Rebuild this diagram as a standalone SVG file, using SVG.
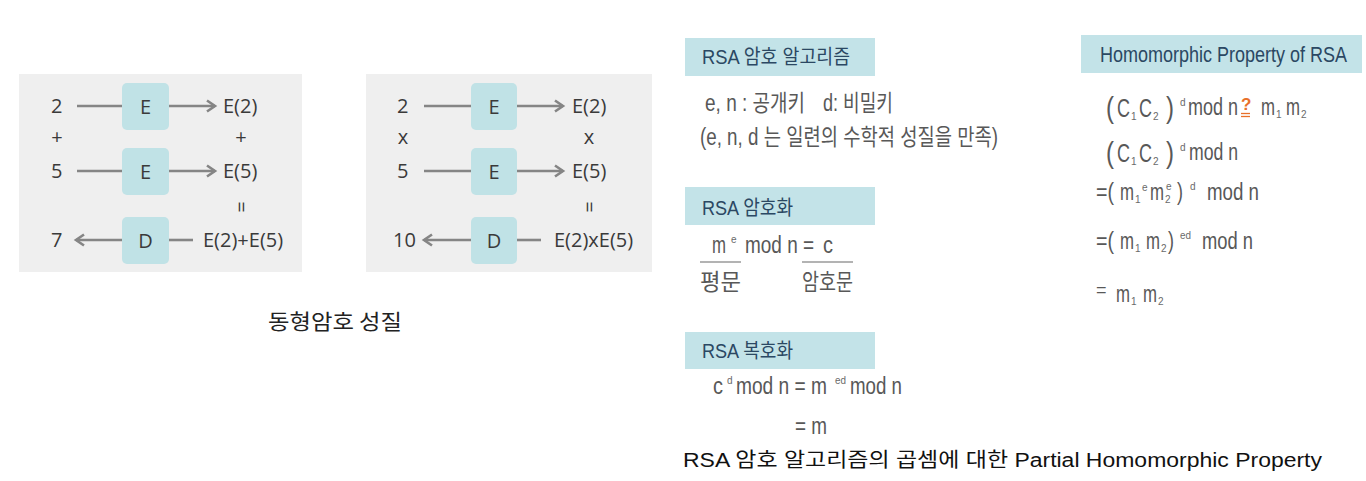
<svg xmlns="http://www.w3.org/2000/svg" width="1366" height="481" viewBox="0 0 1366 481">
<defs>
<marker id="ah" markerWidth="14" markerHeight="14" refX="11" refY="7" orient="auto" markerUnits="userSpaceOnUse"><path d="M3,1.5 L11,7 L3,12.5" fill="none" stroke="#858585" stroke-width="2.6"/></marker>
<style>
.bg{fill:#efefef}
.box{fill:#c0e2e6}
.lt{font-family:"Open Sans","Noto Sans","Noto Sans CJK KR",sans-serif;font-size:20px;fill:#3a3a3a}
.ln{stroke:#858585;stroke-width:2.6;fill:none}
.hd{fill:#c3e3e8}
.ht{font-family:"Liberation Sans","Noto Sans CJK KR",sans-serif;font-size:20px;fill:#2b4863}
.bt{font-family:"Liberation Sans","Noto Sans CJK KR",sans-serif;font-size:23px;fill:#585858}
.bc{font-family:"Liberation Sans",sans-serif;font-size:26px;fill:#585858}
.sp{font-family:"Liberation Sans",sans-serif;font-size:10px;fill:#6a6a6a}
.pr{font-family:"Liberation Sans",sans-serif;font-size:30px;fill:#585858}
.cap{font-family:"Liberation Sans","Noto Sans CJK KR",sans-serif;font-size:20px;fill:#111}
</style>
</defs>
<rect class="bg" x="19" y="74" width="283" height="198"/>
<rect class="bg" x="366" y="74" width="286" height="198"/>
<g id="connectors">
<line class="ln" x1="77" y1="106" x2="122" y2="106"/>
<line class="ln" x1="169" y1="106" x2="215" y2="106" marker-end="url(#ah)"/>
<line class="ln" x1="77" y1="171" x2="122" y2="171"/>
<line class="ln" x1="169" y1="171" x2="215" y2="171" marker-end="url(#ah)"/>
<line class="ln" x1="122" y1="240" x2="76" y2="240" marker-end="url(#ah)"/>
<line class="ln" x1="169" y1="240" x2="193" y2="240"/>
<line class="ln" x1="424" y1="106" x2="471" y2="106"/>
<line class="ln" x1="517" y1="106" x2="563" y2="106" marker-end="url(#ah)"/>
<line class="ln" x1="424" y1="171" x2="471" y2="171"/>
<line class="ln" x1="517" y1="171" x2="563" y2="171" marker-end="url(#ah)"/>
<line class="ln" x1="471" y1="240" x2="424" y2="240" marker-end="url(#ah)"/>
<line class="ln" x1="517" y1="240" x2="541" y2="240"/>
</g>
<g id="E1a"><rect class="box" x="122" y="83" width="47" height="47" rx="5"/><text class="lt" x="145.5" y="114" text-anchor="middle">E</text></g>
<g id="E2a"><rect class="box" x="122" y="148" width="47" height="47" rx="5"/><text class="lt" x="145.5" y="179" text-anchor="middle">E</text></g>
<g id="Da"><rect class="box" x="122" y="217" width="47" height="47" rx="5"/><text class="lt" x="145.5" y="248" text-anchor="middle">D</text></g>
<g id="E1b"><rect class="box" x="471" y="83" width="46" height="47" rx="5"/><text class="lt" x="494" y="114" text-anchor="middle">E</text></g>
<g id="E2b"><rect class="box" x="471" y="148" width="46" height="47" rx="5"/><text class="lt" x="494" y="179" text-anchor="middle">E</text></g>
<g id="Db"><rect class="box" x="471" y="217" width="46" height="47" rx="5"/><text class="lt" x="494" y="248" text-anchor="middle">D</text></g>
<g id="panel1-text">
<text class="lt" x="51" y="113">2</text>
<text class="lt" x="223" y="113">E(2)</text>
<text class="lt" x="57" y="144" text-anchor="middle">+</text>
<text class="lt" x="241" y="144" text-anchor="middle">+</text>
<text class="lt" x="51" y="178">5</text>
<text class="lt" x="223" y="178">E(5)</text>
<text class="lt" x="241" y="207" text-anchor="middle" dominant-baseline="central" transform="rotate(90 241 207)">=</text>
<text class="lt" x="51" y="247">7</text>
<text class="lt" x="203" y="247">E(2)+E(5)</text>
</g>
<g id="panel2-text">
<text class="lt" x="397" y="113">2</text>
<text class="lt" x="572" y="113">E(2)</text>
<text class="lt" x="403" y="144" text-anchor="middle">x</text>
<text class="lt" x="589" y="144" text-anchor="middle">x</text>
<text class="lt" x="397" y="178">5</text>
<text class="lt" x="572" y="178">E(5)</text>
<text class="lt" x="589" y="207" text-anchor="middle" dominant-baseline="central" transform="rotate(90 589 207)">=</text>
<text class="lt" x="393" y="247">10</text>
<text class="lt" x="554" y="247">E(2)xE(5)</text>
</g>
<text x="268" y="329" font-family="'Noto Sans CJK KR',sans-serif" font-size="21" fill="#222" textLength="134" lengthAdjust="spacingAndGlyphs">동형암호 성질</text>

<g id="rsa-algo">
<rect class="hd" x="685" y="38" width="190" height="38"/>
<text class="ht" x="702" y="64" textLength="148" lengthAdjust="spacingAndGlyphs">RSA 암호 알고리즘</text>
<text class="bt" x="705" y="111" textLength="100" lengthAdjust="spacingAndGlyphs">e, n : 공개키</text>
<text class="bt" x="823" y="111" textLength="70" lengthAdjust="spacingAndGlyphs">d: 비밀키</text>
<text class="bt" x="700" y="145" textLength="298" lengthAdjust="spacingAndGlyphs">(e, n, d 는 일련의 수학적 성질을 만족)</text>
</g>
<g id="rsa-enc">
<rect class="hd" x="685" y="187" width="190" height="38"/>
<text class="ht" x="702" y="215" textLength="91" lengthAdjust="spacingAndGlyphs">RSA 암호화</text>
<text class="bt" x="712" y="253" textLength="14" lengthAdjust="spacingAndGlyphs">m</text>
<text class="sp" x="731" y="243">e</text>
<text class="bt" x="745" y="253" textLength="69" lengthAdjust="spacingAndGlyphs">mod n =</text>
<text class="bt" x="823" y="253" textLength="10" lengthAdjust="spacingAndGlyphs">c</text>
<line x1="700" y1="262" x2="741" y2="262" stroke="#9a9a9a" stroke-width="1.5"/>
<line x1="802" y1="262" x2="853" y2="262" stroke="#9a9a9a" stroke-width="1.5"/>
<text class="bt" x="700" y="290" textLength="41" lengthAdjust="spacingAndGlyphs">평문</text>
<text class="bt" x="802" y="290" textLength="51" lengthAdjust="spacingAndGlyphs">암호문</text>
</g>
<g id="rsa-dec">
<rect class="hd" x="685" y="332" width="190" height="37"/>
<text class="ht" x="702" y="358" textLength="91" lengthAdjust="spacingAndGlyphs">RSA 복호화</text>
<text class="bt" x="713" y="394" textLength="10" lengthAdjust="spacingAndGlyphs">c</text>
<text class="sp" x="727" y="384">d</text>
<text class="bt" x="736" y="394" textLength="91" lengthAdjust="spacingAndGlyphs">mod n = m</text>
<text class="sp" x="835" y="384" textLength="11" lengthAdjust="spacingAndGlyphs">ed</text>
<text class="bt" x="850" y="394" textLength="52" lengthAdjust="spacingAndGlyphs">mod n</text>
<text class="bt" x="795" y="434" textLength="32" lengthAdjust="spacingAndGlyphs">= m</text>
</g>
<g id="homomorphic">
<rect class="hd" x="1081" y="35" width="281" height="38"/>
<text class="ht" x="1100" y="62" style="font-size:22px" textLength="247" lengthAdjust="spacingAndGlyphs">Homomorphic Property of RSA</text>
<!-- line 1 -->
<text class="pr" x="1106" y="118" textLength="8" lengthAdjust="spacingAndGlyphs">(</text>
<text class="bc" x="1117" y="117" textLength="13" lengthAdjust="spacingAndGlyphs">C</text>
<text class="sp" x="1131" y="120">1</text>
<text class="bc" x="1139" y="117" textLength="13" lengthAdjust="spacingAndGlyphs">C</text>
<text class="sp" x="1153" y="120">2</text>
<text class="pr" x="1166" y="118" textLength="8" lengthAdjust="spacingAndGlyphs">)</text>
<text class="sp" x="1180" y="106">d</text>
<text class="bt" x="1188" y="115" textLength="50" lengthAdjust="spacingAndGlyphs">mod n</text>
<text x="1241" y="110" font-family="'Liberation Sans',sans-serif" font-size="17" font-weight="bold" fill="#e8702a">?</text>
<line x1="1241" y1="113.5" x2="1250" y2="113.5" stroke="#e8702a" stroke-width="1.3"/>
<line x1="1241" y1="116.5" x2="1250" y2="116.5" stroke="#e8702a" stroke-width="1.3"/>
<text class="bt" x="1261" y="115" textLength="14" lengthAdjust="spacingAndGlyphs">m</text>
<text class="sp" x="1276" y="118">1</text>
<text class="bt" x="1286" y="115" textLength="14" lengthAdjust="spacingAndGlyphs">m</text>
<text class="sp" x="1301" y="118">2</text>
<!-- line 2 -->
<text class="pr" x="1106" y="163" textLength="8" lengthAdjust="spacingAndGlyphs">(</text>
<text class="bc" x="1117" y="162" textLength="13" lengthAdjust="spacingAndGlyphs">C</text>
<text class="sp" x="1131" y="165">1</text>
<text class="bc" x="1139" y="162" textLength="13" lengthAdjust="spacingAndGlyphs">C</text>
<text class="sp" x="1153" y="165">2</text>
<text class="pr" x="1166" y="163" textLength="8" lengthAdjust="spacingAndGlyphs">)</text>
<text class="sp" x="1180" y="151">d</text>
<text class="bt" x="1189" y="160" textLength="49" lengthAdjust="spacingAndGlyphs">mod n</text>
<!-- line 3 -->
<text class="bt" x="1096" y="200" textLength="18" lengthAdjust="spacingAndGlyphs">=(</text>
<text class="bt" x="1120" y="200" textLength="14" lengthAdjust="spacingAndGlyphs">m</text>
<text class="sp" x="1135" y="203">1</text>
<text class="sp" x="1142" y="191">e</text>
<text class="bt" x="1150" y="200" textLength="14" lengthAdjust="spacingAndGlyphs">m</text>
<text class="sp" x="1165" y="203">2</text>
<text class="sp" x="1166" y="190">e</text>
<text class="bt" x="1177" y="200" textLength="6" lengthAdjust="spacingAndGlyphs">)</text>
<text class="sp" x="1190" y="190">d</text>
<text class="bt" x="1207" y="200" textLength="52" lengthAdjust="spacingAndGlyphs">mod n</text>
<!-- line 4 -->
<text class="bt" x="1096" y="249" textLength="18" lengthAdjust="spacingAndGlyphs">=(</text>
<text class="bt" x="1120" y="249" textLength="14" lengthAdjust="spacingAndGlyphs">m</text>
<text class="sp" x="1135" y="252">1</text>
<text class="bt" x="1146" y="249" textLength="14" lengthAdjust="spacingAndGlyphs">m</text>
<text class="sp" x="1161" y="252">2</text>
<text class="bt" x="1168" y="249" textLength="6" lengthAdjust="spacingAndGlyphs">)</text>
<text class="sp" x="1180" y="239" textLength="11" lengthAdjust="spacingAndGlyphs">ed</text>
<text class="bt" x="1202" y="249" textLength="51" lengthAdjust="spacingAndGlyphs">mod n</text>
<!-- line 5 -->
<text class="bt" x="1096" y="296" style="font-size:18px">=</text>
<text class="bt" x="1116" y="302" textLength="14" lengthAdjust="spacingAndGlyphs">m</text>
<text class="sp" x="1131" y="305">1</text>
<text class="bt" x="1143" y="302" textLength="14" lengthAdjust="spacingAndGlyphs">m</text>
<text class="sp" x="1158" y="305">2</text>
</g>
<text class="cap" x="683" y="467" textLength="639" lengthAdjust="spacingAndGlyphs">RSA 암호 알고리즘의 곱셈에 대한 Partial Homomorphic Property</text>
</svg>
